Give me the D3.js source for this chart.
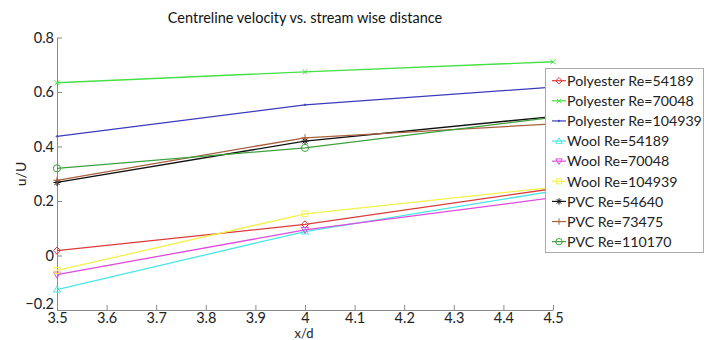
<!DOCTYPE html>
<html><head><meta charset="utf-8">
<script src="https://cdn.jsdelivr.net/npm/d3@7"></script>
<style>
body{margin:0;background:#fff;}
svg{display:block;}
text{font-family:Lato,"Open Sans",sans-serif;}
</style></head>
<body><svg id="c" width="713" height="340"></svg>
<script>
const xValues = [3.5, 4, 4.5];
const seriesNames = ["Polyester Re=54189","Polyester Re=70048","Polyester Re=104939","Wool Re=54189","Wool Re=70048","Wool Re=104939","PVC Re=54640","PVC Re=73475","PVC Re=110170"];
const polyester54189 = [0.018, 0.114, 0.245];
const polyester70048 = [0.634, 0.674, 0.711];
const polyester104939 = [0.437, 0.553, 0.618];
const wool54189 = [-0.125, 0.088, 0.236];
const wool70048 = [-0.07, 0.094, 0.212];
const wool104939 = [-0.055, 0.153, 0.25];
const pvc54640 = [0.268, 0.42, 0.51];
const pvc73475 = [0.276, 0.432, 0.483];
const pvc110170 = [0.32, 0.395, 0.507];
const seriesValues = [polyester54189, polyester70048, polyester104939, wool54189, wool70048, wool104939, pvc54640, pvc73475, pvc110170];
const seriesColors = ["#dd3b3b","#44e044","#3b3bbd","#4ae6e6","#e04ae0","#f2f24a","#111111","#a8603e","#3ea03e"];
const seriesMarkers = ["diamond","x","point","triUp","triDown","square","star","plus","circle"];
const xTicks = [3.5,3.6,3.7,3.8,3.9,4,4.1,4.2,4.3,4.4,4.5];
const yTicks = [-0.2,0,0.2,0.4,0.6,0.8];

const svg = d3.select("#c");
const x = d3.scaleLinear().domain([3.5,4.5]).range([57,553]);
const y = d3.scaleLinear().domain([-0.2,0.8]).range([310,37.5]);

function markerPath(type, s){
  const r = s;
  switch(type){
    case "diamond": return `M0,${-r}L${r},0L0,${r}L${-r},0Z`;
    case "x": return `M${-r*0.7},${-r*0.7}L${r*0.7},${r*0.7}M${-r*0.7},${r*0.7}L${r*0.7},${-r*0.7}`;
    case "point": return `M-0.8,0a0.8,0.8 0 1,0 1.6,0a0.8,0.8 0 1,0 -1.6,0`;
    case "triUp": return `M0,${-r}L${r},${r*0.7}L${-r},${r*0.7}Z`;
    case "triDown": return `M0,${r}L${r},${-r*0.7}L${-r},${-r*0.7}Z`;
    case "square": return `M${-r*0.8},${-r*0.8}h${1.6*r}v${1.6*r}h${-1.6*r}Z`;
    case "star": return `M0,${-r}V${r}M${-r},0H${r}M${-r*0.7},${-r*0.7}L${r*0.7},${r*0.7}M${-r*0.7},${r*0.7}L${r*0.7},${-r*0.7}`;
    case "plus": return `M0,${-r}V${r}M${-r},0H${r}`;
    case "circle": return `M${-r},0a${r},${r} 0 1,0 ${2*r},0a${r},${r} 0 1,0 ${-2*r},0`;
  }
}

// axes
const axisColor = "#8a8a8a";
const xAxis = d3.axisBottom(x).tickValues(xTicks).tickSizeInner(-5).tickSizeOuter(0).tickPadding(3).tickFormat(d3.format("~g"));
const gx = svg.append("g").attr("transform","translate(0,310)").call(xAxis);
const yAxis = d3.axisLeft(y).tickValues(yTicks).tickSizeInner(-5).tickSizeOuter(0).tickPadding(3).tickFormat(d3.format("~g"));
const gy = svg.append("g").attr("transform","translate(57,0)").call(yAxis);
[gx,gy].forEach(g=>{
  g.select(".domain").attr("stroke",axisColor);
  g.selectAll(".tick line").attr("stroke",axisColor);
  g.selectAll(".tick text").attr("fill","#222").style("font-size","14.5px").style("font-family","Lato,'Open Sans',sans-serif");
});
gy.selectAll(".tick text").attr("dy", d => d === -0.2 ? "-0.12em" : "0.32em");

// title & labels
svg.append("text").attr("x",305).attr("y",23).attr("text-anchor","middle").style("font-size","14.5px").attr("fill","#111").text("Centreline velocity vs. stream wise distance");
svg.append("text").attr("x",304).attr("y",338).attr("text-anchor","middle").style("font-size","13px").attr("fill","#222").text("x/d");
svg.append("text").attr("transform","translate(26,174) rotate(-90)").attr("text-anchor","middle").style("font-size","14px").attr("fill","#222").text("u/U");

// series
const line = d3.line().x((d,i)=>x(xValues[i])).y(d=>y(d));
seriesValues.forEach((vals,k)=>{
  const g = svg.append("g");
  g.append("path").datum(vals).attr("d",line).attr("fill","none").attr("stroke",seriesColors[k]).attr("stroke-width",1.3);
  g.selectAll("path.m").data(vals).join("path").attr("class","m")
    .attr("transform",(d,i)=>`translate(${x(xValues[i])},${y(d)})`)
    .attr("d",markerPath(seriesMarkers[k],3.6))
    .attr("fill","none").attr("stroke",seriesColors[k]).attr("stroke-width",1);
});

// legend
const lg = svg.append("g");
lg.append("rect").attr("x",545.5).attr("y",68.5).attr("width",158).attr("height",184).attr("fill","#fff").attr("stroke","#aaa");
seriesNames.forEach((n,k)=>{
  const cy = 80.7 + k*20.12;
  lg.append("line").attr("x1",552).attr("x2",566).attr("y1",cy).attr("y2",cy).attr("stroke",seriesColors[k]).attr("stroke-width",1.2);
  lg.append("path").attr("transform",`translate(559,${cy})`).attr("d",markerPath(seriesMarkers[k],3.2)).attr("fill","none").attr("stroke",seriesColors[k]).attr("stroke-width",1);
  lg.append("text").attr("x",567).attr("y",cy+5.3).style("font-size","14.2px").attr("fill","#222").text(n);
});
</script></body></html>
